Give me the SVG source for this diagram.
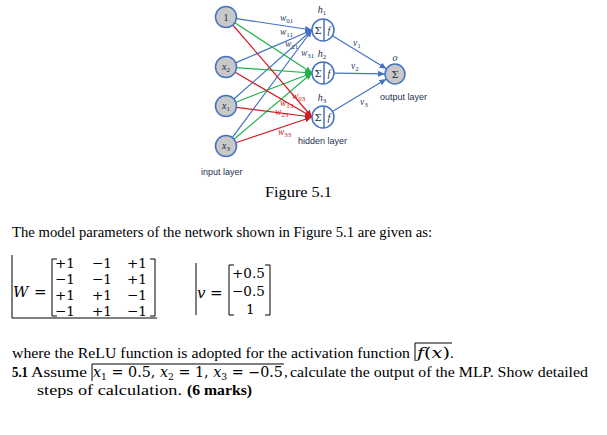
<svg xmlns="http://www.w3.org/2000/svg" width="607" height="435" viewBox="0 0 607 435">
<style>
.bl{stroke:#4472C4;stroke-width:1.2;fill:none}
.gr{stroke:#22B14C;stroke-width:1.2;fill:none}
.rd{stroke:#D01C24;stroke-width:1.2;fill:none}
.inode{fill:#C8C8C8;stroke:#4472C4;stroke-width:1.5}
.hnode{fill:#FFFFFF;stroke:#4472C4;stroke-width:1.5}
.nl{font-family:"Liberation Serif",serif;font-style:italic;font-size:10px;fill:#1a2a4a;text-anchor:middle}
.sym{font-family:"DejaVu Serif",serif;font-size:10px;fill:#1a2a4a;text-anchor:middle}
.lay{font-family:"Liberation Sans",sans-serif;font-size:9px;fill:#1f2f50}
.wl{font-family:"Liberation Serif",serif;font-style:italic;font-size:9.5px;fill:#2a3a6a}
.wr{font-family:"Liberation Serif",serif;font-style:italic;font-size:9.5px;fill:#D01C24}
.sub{font-size:7px;font-style:normal}
.tx{font-family:"Liberation Serif",serif;font-size:15px;fill:#000}
.b{font-weight:bold}
.m{font-family:"DejaVu Serif",serif;font-size:15px;fill:#000}
.mx{font-family:"DejaVu Serif",serif;font-size:13.5px;fill:#000}
.mi{font-family:"DejaVu Serif",serif;font-style:italic;font-size:15px;fill:#000}
.ml{font-family:"DejaVu Serif",serif;font-size:14px;fill:#000}
.br{stroke:#000;stroke-width:1;fill:none}
</style>
<defs>
<marker id="ab" markerUnits="userSpaceOnUse" markerWidth="7" markerHeight="6" refX="7" refY="3" orient="auto"><path d="M0,0 L7,3 L0,6 z" fill="#4472C4"/></marker>
<marker id="ag" markerUnits="userSpaceOnUse" markerWidth="7" markerHeight="6" refX="7" refY="3" orient="auto"><path d="M0,0 L7,3 L0,6 z" fill="#22B14C"/></marker>
<marker id="ar" markerUnits="userSpaceOnUse" markerWidth="7" markerHeight="6" refX="7" refY="3" orient="auto"><path d="M0,0 L7,3 L0,6 z" fill="#D01C24"/></marker>
</defs>

<g id="connectors">
<line class="bl" x1="236.4" y1="18.6" x2="312" y2="30" marker-end="url(#ab)"/>
<line class="bl" x1="235.6" y1="62.9" x2="312" y2="30" marker-end="url(#ab)"/>
<line class="bl" x1="233.9" y1="99" x2="312" y2="30" marker-end="url(#ab)"/>
<line class="bl" x1="232.3" y1="137.6" x2="312" y2="30" marker-end="url(#ab)"/>
<line class="gr" x1="234.8" y1="22.7" x2="312" y2="73" marker-end="url(#ag)"/>
<line class="gr" x1="236.5" y1="67.7" x2="312" y2="73" marker-end="url(#ag)"/>
<line class="gr" x1="235.8" y1="102.2" x2="312" y2="73" marker-end="url(#ag)"/>
<line class="gr" x1="234" y1="139.2" x2="312" y2="73" marker-end="url(#ag)"/>
<line class="rd" x1="232.8" y1="25" x2="312" y2="117" marker-end="url(#ar)"/>
<line class="rd" x1="235.1" y1="72.3" x2="312" y2="117" marker-end="url(#ar)"/>
<line class="rd" x1="236.4" y1="107.3" x2="312" y2="117" marker-end="url(#ar)"/>
<line class="rd" x1="235.9" y1="142.7" x2="312" y2="117" marker-end="url(#ar)"/>
<line class="bl" x1="332.4" y1="35.7" x2="386.5" y2="68.8" marker-end="url(#ab)"/>
<line class="bl" x1="334" y1="73.2" x2="385" y2="73.9" marker-end="url(#ab)"/>
<line class="bl" x1="332.4" y1="111.4" x2="386.4" y2="79.1" marker-end="url(#ab)"/>
<text class="wl" x="280" y="21">w<tspan class="sub" dy="2">01</tspan></text>
<text class="wl" x="280" y="35">w<tspan class="sub" dy="2">11</tspan></text>
<text class="wl" x="285" y="47">w<tspan class="sub" dy="2">21</tspan></text>
<text class="wl" x="301" y="56">w<tspan class="sub" dy="2">31</tspan></text>
<text class="wr" x="292" y="99">w<tspan class="sub" dy="2">03</tspan></text>
<text class="wr" x="280" y="106">w<tspan class="sub" dy="2">13</tspan></text>
<text class="wr" x="275" y="115">w<tspan class="sub" dy="2">23</tspan></text>
<text class="wr" x="278" y="135">w<tspan class="sub" dy="2">33</tspan></text>
<text class="wl" x="353" y="46">v<tspan class="sub" dy="2">1</tspan></text>
<text class="wl" x="351" y="69">v<tspan class="sub" dy="2">2</tspan></text>
<text class="wl" x="360" y="105">v<tspan class="sub" dy="2">3</tspan></text>
</g>

<g id="in0"><circle class="inode" cx="226" cy="17" r="10.5"/><text class="nl" x="226" y="20.5" style="font-style:normal">1</text></g>
<g id="in2"><circle class="inode" cx="226" cy="67" r="10.5"/><text class="nl" x="226" y="70">x<tspan class="sub" dy="1.5">2</tspan></text></g>
<g id="in1"><circle class="inode" cx="226" cy="106" r="10.5"/><text class="nl" x="226" y="109">x<tspan class="sub" dy="1.5">1</tspan></text></g>
<g id="in3"><circle class="inode" cx="226" cy="146" r="10.5"/><text class="nl" x="226" y="149">x<tspan class="sub" dy="1.5">3</tspan></text></g>

<g id="h1"><circle class="hnode" cx="323" cy="30" r="11"/><line class="bl" x1="324" y1="19" x2="324" y2="41" style="stroke-width:1.5"/><text class="sym" x="318" y="34">Σ</text><text class="nl" x="329" y="34">f</text><text class="nl" x="322" y="13">h<tspan class="sub" dy="2">1</tspan></text></g>
<g id="h2"><circle class="hnode" cx="323" cy="73" r="11"/><line class="bl" x1="324" y1="62" x2="324" y2="84" style="stroke-width:1.5"/><text class="sym" x="318" y="77">Σ</text><text class="nl" x="329" y="77">f</text><text class="nl" x="322" y="57">h<tspan class="sub" dy="2">2</tspan></text></g>
<g id="h3"><circle class="hnode" cx="323" cy="117" r="11"/><line class="bl" x1="324" y1="106" x2="324" y2="128" style="stroke-width:1.5"/><text class="sym" x="318" y="121">Σ</text><text class="nl" x="329" y="121">f</text><text class="nl" x="322" y="101">h<tspan class="sub" dy="2">3</tspan></text></g>
<g id="out"><circle class="inode" cx="395" cy="74" r="10"/><text class="sym" x="395" y="78">Σ</text><text class="nl" x="395" y="61">o</text></g>

<g id="labels">
<text class="lay" x="380" y="100">output layer</text>
<text class="lay" x="298" y="144">hidden layer</text>
<text class="lay" x="201" y="175">input layer</text>
</g>

<g id="text">
<text class="tx" x="265" y="197" textLength="67" lengthAdjust="spacingAndGlyphs">Figure 5.1</text>
<text class="tx" x="12" y="237" textLength="420" lengthAdjust="spacingAndGlyphs">The model parameters of the network shown in Figure 5.1 are given as:</text>

<path class="br" d="M12,255 V318 H157"/>
<text class="mi" x="13" y="297">W</text><text class="m" x="34" y="297">=</text>
<path class="br" d="M57,259 H52 V316 H57 M150,259 H155 V316 H150"/>
<g class="mx">
<text x="55" y="268">+1</text><text x="92" y="268">−1</text><text x="127" y="268">+1</text>
<text x="55" y="284">−1</text><text x="92" y="284">−1</text><text x="127" y="284">+1</text>
<text x="55" y="300">+1</text><text x="92" y="300">+1</text><text x="127" y="300">−1</text>
<text x="55" y="316">−1</text><text x="92" y="316">+1</text><text x="127" y="316">−1</text>
</g>

<path class="br" d="M196,263 V315"/>
<text class="mi" x="197" y="298">v</text><text class="m" x="210" y="298">=</text>
<path class="br" d="M234,265 H229 V315 H234 M265,265 H270 V315 H265"/>
<g class="mx">
<text x="232" y="278">+0.5</text>
<text x="232" y="296">−0.5</text>
<text x="246" y="314">1</text>
</g>

<text class="tx" x="12" y="358" textLength="398" lengthAdjust="spacingAndGlyphs">where the ReLU function is adopted for the activation function</text>
<path class="br" d="M415,361 V343 H452"/>
<text class="mi" x="417" y="358" textLength="33" lengthAdjust="spacingAndGlyphs">f<tspan style="font-style:normal">(</tspan>x<tspan style="font-style:normal">)</tspan></text>
<text class="tx" x="450" y="358">.</text>

<text class="tx b" x="12" y="377" textLength="16" lengthAdjust="spacingAndGlyphs">5.1</text>
<text class="tx" x="31" y="377" textLength="56" lengthAdjust="spacingAndGlyphs">Assume</text>
<path class="br" d="M92,381 V364 H284"/>
<text class="ml" x="93" y="377" textLength="190" lengthAdjust="spacingAndGlyphs"><tspan font-style="italic">x</tspan><tspan font-size="9" dy="3">1</tspan><tspan dy="-3"> = 0.5,  </tspan><tspan font-style="italic">x</tspan><tspan font-size="9" dy="3">2</tspan><tspan dy="-3"> = 1, </tspan><tspan font-style="italic">x</tspan><tspan font-size="9" dy="3">3</tspan><tspan dy="-3"> = −0.5</tspan></text>
<text class="tx" x="284" y="377">,</text>
<text class="tx" x="290" y="377" textLength="298" lengthAdjust="spacingAndGlyphs">calculate the output of the MLP. Show detailed</text>
<text class="tx" x="37" y="395" textLength="145" lengthAdjust="spacingAndGlyphs">steps of calculation.</text>
<text class="tx b" x="187" y="395" textLength="65" lengthAdjust="spacingAndGlyphs">(6 marks)</text>
</g>
</svg>
